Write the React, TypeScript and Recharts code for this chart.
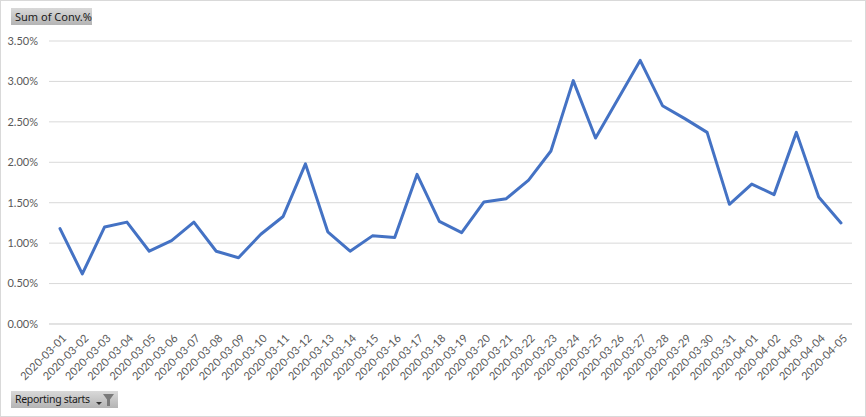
import React from "react";
import { LineChart, Line, XAxis, YAxis, CartesianGrid } from "recharts";

const dates = [
  "2020-03-01","2020-03-02","2020-03-03","2020-03-04","2020-03-05","2020-03-06",
  "2020-03-07","2020-03-08","2020-03-09","2020-03-10","2020-03-11","2020-03-12",
  "2020-03-13","2020-03-14","2020-03-15","2020-03-16","2020-03-17","2020-03-18",
  "2020-03-19","2020-03-20","2020-03-21","2020-03-22","2020-03-23","2020-03-24",
  "2020-03-25","2020-03-26","2020-03-27","2020-03-28","2020-03-29","2020-03-30",
  "2020-03-31","2020-04-01","2020-04-02","2020-04-03","2020-04-04","2020-04-05",
];
const conv = [
  1.18,0.62,1.20,1.26,0.90,1.03,1.26,0.90,0.82,1.11,1.33,1.98,
  1.14,0.90,1.09,1.07,1.85,1.27,1.13,1.51,1.55,1.78,2.14,3.01,
  2.30,2.78,3.26,2.70,2.54,2.37,1.48,1.73,1.60,2.37,1.57,1.25,
];
const yTicks = [0, 0.5, 1, 1.5, 2, 2.5, 3, 3.5];
const valueTitle = "Sum of Conv.%";
const filterTitle = "Reporting starts";

const rows = dates.map((date, i) => ({ date, conv: conv[i] }));
const axisFont = "Lato, 'Open Sans', sans-serif";
const buttonStyle: React.CSSProperties = {
  position: "absolute",
  left: 11,
  height: 17,
  background: "linear-gradient(#d9d9d9, #b4b4b4)",
  fontFamily: "'Noto Sans', sans-serif",
  fontSize: 11,
  lineHeight: "17px",
  color: "#1a1a1a",
  whiteSpace: "nowrap",
  boxSizing: "border-box",
  paddingLeft: 4,
};

function DateTick(props: any) {
  const { x, y, payload } = props;
  return (
    <text
      x={x + 5}
      y={y + 5}
      textAnchor="end"
      dominantBaseline="middle"
      fontFamily={axisFont}
      fontSize={11}
      fill="#595959"
      transform={`rotate(-45 ${x + 5} ${y + 5})`}
    >
      {payload.value}
    </text>
  );
}

export default function App() {
  return (
    <div style={{ position: "absolute", left: 0, top: 0, width: 866, height: 417, background: "#fff", overflow: "hidden" }}>
      <LineChart
        width={866}
        height={417}
        data={rows}
        margin={{ top: 41, right: 14, bottom: 0, left: 0 }}
      >
        <CartesianGrid vertical={false} stroke="#d9d9d9" strokeWidth={1} />
        <XAxis
          dataKey="date"
          interval={0}
          height={93}
          padding={{ left: 11, right: 11 }}
          axisLine={{ stroke: "#d9d9d9" }}
          tickLine={false}
          tick={<DateTick />}
        />
        <YAxis
          width={49}
          domain={[0, 3.5]}
          ticks={yTicks}
          axisLine={false}
          tickLine={false}
          tickMargin={5}
          tickFormatter={(v: number) => `${v.toFixed(2)}%`}
          tick={{ fontFamily: axisFont, fontSize: 11, fill: "#595959" }}
        />
        <Line
          dataKey="conv"
          type="linear"
          stroke="#4472c4"
          strokeWidth={3}
          dot={false}
          isAnimationActive={false}
          strokeLinecap="round"
          strokeLinejoin="round"
        />
      </LineChart>
      <div style={{ position: "absolute", inset: 0, border: "1px solid #d9d9d9", pointerEvents: "none" }} />
      <div style={{ ...buttonStyle, top: 8, width: 81 }}>{valueTitle}</div>
      <div style={{ ...buttonStyle, top: 391, width: 107, fontSize: 10.5, letterSpacing: -0.3 }}>
        {filterTitle}
        <svg width="22" height="17" style={{ position: "absolute", left: 84, top: 0 }}>
          <path d="M1 11 h6 l-3 3 z" fill="#333" />
          <path d="M8 3 h11 l-4 5.5 v6.5 h-3 v-6.5 z" fill="#7a7a7a" />
        </svg>
      </div>
    </div>
  );
}
